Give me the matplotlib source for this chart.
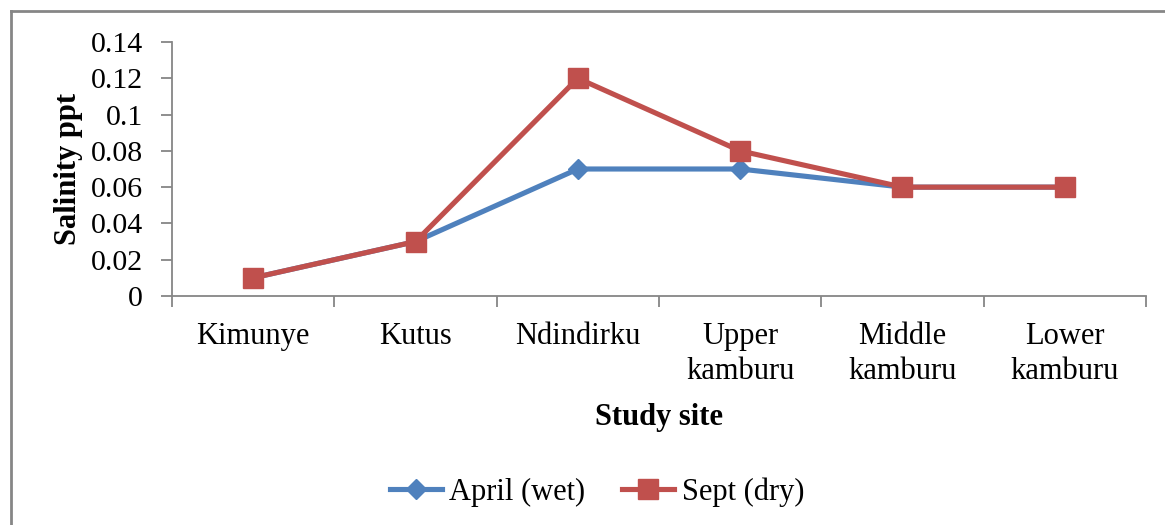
import matplotlib.pyplot as plt
from matplotlib.lines import Line2D

plt.rcParams['font.family'] = ['Liberation Serif', 'DejaVu Serif']

sites = ["Kimunye", "Kutus", "Ndindirku", "Upper\nkamburu", "Middle\nkamburu", "Lower\nkamburu"]
april_wet = [0.01, 0.03, 0.07, 0.07, 0.06, 0.06]
sept_dry = [0.01, 0.03, 0.12, 0.08, 0.06, 0.06]
yticks = [0, 0.02, 0.04, 0.06, 0.08, 0.1, 0.12, 0.14]
ytick_labels = ["0", "0.02", "0.04", "0.06", "0.08", "0.1", "0.12", "0.14"]

blue = "#4F81BD"
red = "#C0504D"
grey = "#868686"

fig = plt.figure(figsize=(11.65, 5.25), dpi=100)
ax = fig.add_axes([172 / 1165, 1 - 296 / 525, (1146 - 172) / 1165, (296 - 42) / 525])

x = range(len(sites))
ax.plot(x, april_wet, color=blue, lw=3.7, marker="D", ms=10.5, mec=blue, label="April (wet)")
ax.plot(x, sept_dry, color=red, lw=3.7, marker="s", ms=14, mec=red, label="Sept (dry)")

ax.set_xlim(-0.5, len(sites) - 0.5)
ax.set_ylim(0, 0.14)
ax.set_yticks(yticks)
ax.set_yticklabels(ytick_labels, fontsize=21.5)
ax.set_xticks([i - 0.5 for i in range(len(sites) + 1)])
ax.set_xticklabels([])
ax.set_xticks(list(x), minor=True)
ax.set_xticklabels(sites, minor=True, fontsize=22, linespacing=1.25)
ax.tick_params(axis="x", which="minor", length=0, pad=19)
ax.tick_params(axis="x", which="major", length=8, color=grey, width=1.3)
ax.tick_params(axis="y", length=8, color=grey, width=1.3, pad=13)

for s in ["top", "right"]:
    ax.spines[s].set_visible(False)
for s in ["left", "bottom"]:
    ax.spines[s].set_color(grey)
    ax.spines[s].set_linewidth(1.3)

ax.set_ylabel("Salinity ppt", fontsize=22, fontweight="bold")
ax.yaxis.set_label_coords(-0.091, 0.5)
ax.set_xlabel("Study site", fontsize=22, fontweight="bold")
ax.xaxis.set_label_coords(0.5, -0.42)

handles = [
    Line2D([], [], color=blue, lw=3.7, marker="D", ms=10.5, mec=blue),
    Line2D([], [], color=red, lw=3.7, marker="s", ms=14, mec=red),
]
fig.legend(handles, ["April (wet)", "Sept (dry)"], loc="center", bbox_to_anchor=(597 / 1165, 1 - 492 / 525),
           ncol=2, frameon=False, fontsize=22, handlelength=1.7, columnspacing=1.2, handletextpad=0.25)

# outer chart border (top and left edges visible)
fig.add_artist(Line2D([11 / 1165, 11 / 1165], [0, 1 - 11 / 525], color=grey, lw=2, transform=fig.transFigure))
fig.add_artist(Line2D([11 / 1165, 1], [1 - 11 / 525, 1 - 11 / 525], color=grey, lw=2, transform=fig.transFigure))

fig.savefig("out.png", dpi=100)
